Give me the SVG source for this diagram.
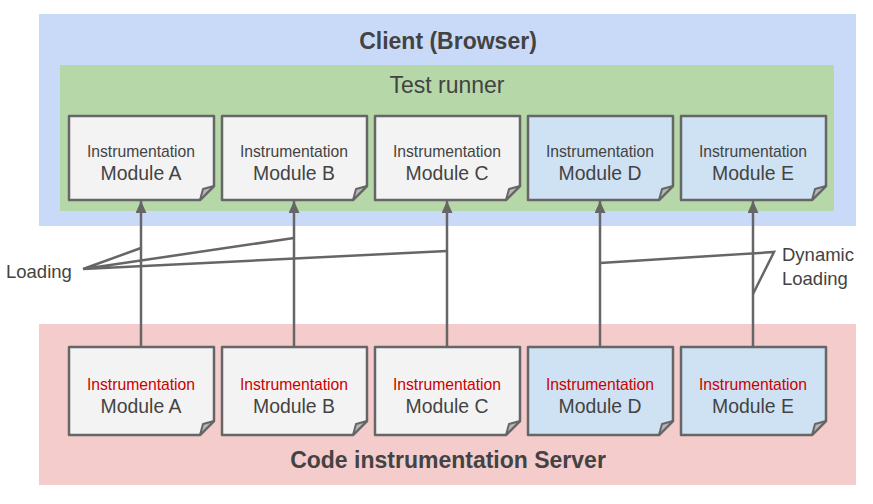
<svg xmlns="http://www.w3.org/2000/svg" width="873" height="504" viewBox="0 0 873 504">
<style>
text{font-family:Arial,"Liberation Sans",sans-serif;fill:#434343;text-anchor:middle}
.doc{stroke:#666;stroke-width:2.5;stroke-linejoin:round}
.g{fill:#f3f3f3}.b{fill:#cfe2f3}
.fold{fill:#b7b7b7;stroke:#666;stroke-width:2;stroke-linejoin:round}
.l1{font-size:15.7px}.l2{font-size:19.4px}
.red{fill:#cc0000}
.ln{stroke:#666;stroke-width:2.5;fill:none}
.lb{font-size:18.5px;text-anchor:start}
.t{font-size:23px}
</style>
<defs>
<marker id="ah" viewBox="0 0 12 11" refX="12" refY="5.5" markerUnits="userSpaceOnUse" markerWidth="12" markerHeight="11" orient="auto"><path d="M0,0 L12,5.5 L0,11 z" fill="#666"/></marker>
</defs>
<rect x="39" y="14" width="817" height="212" fill="#c9daf8"/>
<rect x="60" y="65" width="774" height="146" fill="#b6d7a8"/>
<rect x="39" y="324" width="817" height="161" fill="#f4cccc"/>
<text class="t" x="448" y="49" font-weight="bold">Client (Browser)</text>
<text class="t" x="447" y="93">Test runner</text>
<text class="t" x="448" y="468" font-weight="bold">Code instrumentation Server</text>

<g id="connectors">
<path class="ln" d="M141,347V201" marker-end="url(#ah)"/>
<path class="ln" d="M294,347V201" marker-end="url(#ah)"/>
<path class="ln" d="M447,347V201" marker-end="url(#ah)"/>
<path class="ln" d="M600,347V201" marker-end="url(#ah)"/>
<path class="ln" d="M753,347V201" marker-end="url(#ah)"/>
<path class="ln" d="M141,248L83,269L294,238M83,269L447,251" stroke-width="2"/>
<path class="ln" d="M600,263L774,252L753,294" stroke-width="2"/>
</g>
<text class="lb" x="6" y="278">Loading</text>
<text class="lb" x="782" y="261">Dynamic</text>
<text class="lb" x="782" y="285">Loading</text>

<g id="topA"><path class="doc g" d="M69,116H214V186L200,200H69Z"/><path class="fold" d="M200,200L203,189L214,186Z"/><text class="l1" x="141" y="157">Instrumentation</text><text class="l2" x="141" y="180">Module A</text></g>
<g id="topB"><path class="doc g" d="M222,116H367V186L353,200H222Z"/><path class="fold" d="M353,200L356,189L367,186Z"/><text class="l1" x="294" y="157">Instrumentation</text><text class="l2" x="294" y="180">Module B</text></g>
<g id="topC"><path class="doc g" d="M375,116H520V186L506,200H375Z"/><path class="fold" d="M506,200L509,189L520,186Z"/><text class="l1" x="447" y="157">Instrumentation</text><text class="l2" x="447" y="180">Module C</text></g>
<g id="topD"><path class="doc b" d="M528,116H673V186L659,200H528Z"/><path class="fold" d="M659,200L662,189L673,186Z"/><text class="l1" x="600" y="157">Instrumentation</text><text class="l2" x="600" y="180">Module D</text></g>
<g id="topE"><path class="doc b" d="M681,116H826V186L812,200H681Z"/><path class="fold" d="M812,200L815,189L826,186Z"/><text class="l1" x="753" y="157">Instrumentation</text><text class="l2" x="753" y="180">Module E</text></g>

<g id="botA"><path class="doc g" d="M69,347H214V421L200,435H69Z"/><path class="fold" d="M200,435L203,424L214,421Z"/><text class="l1 red" x="141" y="390">Instrumentation</text><text class="l2" x="141" y="413">Module A</text></g>
<g id="botB"><path class="doc g" d="M222,347H367V421L353,435H222Z"/><path class="fold" d="M353,435L356,424L367,421Z"/><text class="l1 red" x="294" y="390">Instrumentation</text><text class="l2" x="294" y="413">Module B</text></g>
<g id="botC"><path class="doc g" d="M375,347H520V421L506,435H375Z"/><path class="fold" d="M506,435L509,424L520,421Z"/><text class="l1 red" x="447" y="390">Instrumentation</text><text class="l2" x="447" y="413">Module C</text></g>
<g id="botD"><path class="doc b" d="M528,347H673V421L659,435H528Z"/><path class="fold" d="M659,435L662,424L673,421Z"/><text class="l1 red" x="600" y="390">Instrumentation</text><text class="l2" x="600" y="413">Module D</text></g>
<g id="botE"><path class="doc b" d="M681,347H826V421L812,435H681Z"/><path class="fold" d="M812,435L815,424L826,421Z"/><text class="l1 red" x="753" y="390">Instrumentation</text><text class="l2" x="753" y="413">Module E</text></g>
</svg>
